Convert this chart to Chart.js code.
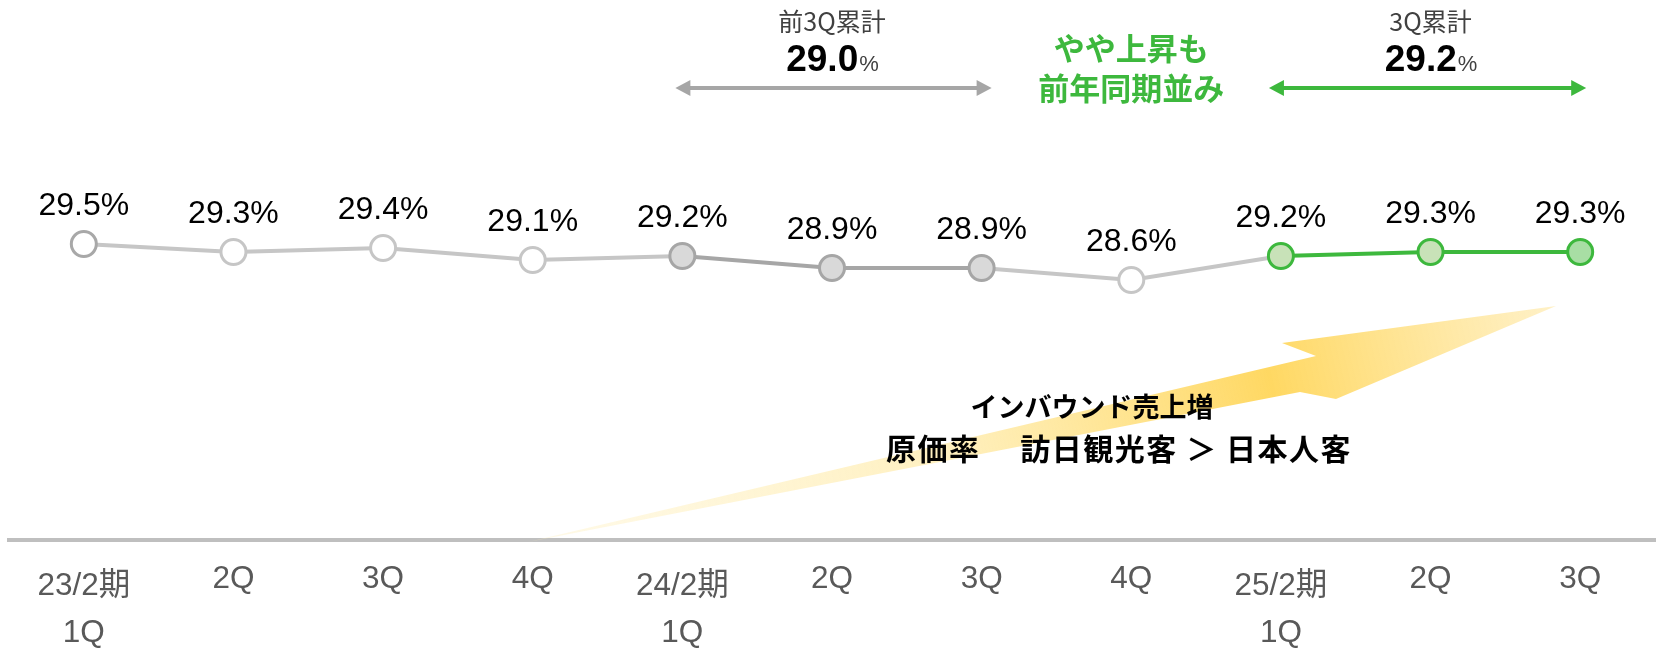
<!DOCTYPE html>
<html>
<head>
<meta charset="utf-8">
<script src="https://cdn.jsdelivr.net/npm/chart.js@4.4.1/dist/chart.umd.min.js"></script>
<style>
html, body { margin: 0; padding: 0; background: #fff; }
#wrap { width: 1658px; height: 648px; }
</style>
</head>
<body>
<div id="wrap"><canvas id="costChart" width="1658" height="648"></canvas></div>
<script>
// Quarter labels (x axis)
const quarterLabels = [['23/2期', '1Q'], '2Q', '3Q', '4Q', ['24/2期', '1Q'], '2Q', '3Q', '4Q', ['25/2期', '1Q'], '2Q', '3Q'];
// Cost ratio (%)
const costRatio = [29.5, 29.3, 29.4, 29.1, 29.2, 28.9, 28.9, 28.6, 29.2, 29.3, 29.3];
// Cumulative 3Q comparison
const prevCumTitle = '前3Q累計';
const prevCumValue = '29.0';
const prevCumRange = [4, 6];
const curCumTitle = '3Q累計';
const curCumValue = '29.2';
const curCumRange = [8, 10];
const commentLines = ['やや上昇も', '前年同期並み'];
const noteLines = ['インバウンド売上増', '原価率　 訪日観光客 ＞ 日本人客'];

const GRAY = '#c6c6c6';
const DARK_GRAY = '#a6a6a6';
const GREEN = '#3db83d';
const CJK = '"Noto Sans CJK JP", sans-serif';
const LATIN = '"Liberation Sans", Arial, sans-serif';

function segColor(i) {
    if (i >= 8) return GREEN;
    if (i === 4 || i === 5) return DARK_GRAY;
    return GRAY;
}

function drawDoubleArrow(ctx, x1, x2, y, color) {
    const head = 15, half = 8;
    ctx.save();
    ctx.strokeStyle = color;
    ctx.fillStyle = color;
    ctx.lineWidth = 4;
    ctx.beginPath();
    ctx.moveTo(x1 + head - 2, y);
    ctx.lineTo(x2 - head + 2, y);
    ctx.stroke();
    ctx.beginPath();
    ctx.moveTo(x1, y);
    ctx.lineTo(x1 + head, y - half);
    ctx.lineTo(x1 + head, y + half);
    ctx.closePath();
    ctx.fill();
    ctx.beginPath();
    ctx.moveTo(x2, y);
    ctx.lineTo(x2 - head, y - half);
    ctx.lineTo(x2 - head, y + half);
    ctx.closePath();
    ctx.fill();
    ctx.restore();
}

function drawCumulative(ctx, cx, title, value) {
    ctx.save();
    ctx.textBaseline = 'middle';
    ctx.textAlign = 'center';
    ctx.fillStyle = '#404040';
    ctx.font = '25px ' + CJK;
    ctx.fillText(title, cx, 21);
    // bold number + small percent sign
    const bigFont = 'bold 37px ' + LATIN;
    const smallFont = '22px ' + LATIN;
    ctx.font = bigFont;
    const w1 = ctx.measureText(value).width;
    ctx.font = smallFont;
    const w2 = ctx.measureText('%').width;
    const left = cx - (w1 + w2) / 2;
    ctx.textAlign = 'left';
    ctx.fillStyle = '#000';
    ctx.font = bigFont;
    ctx.fillText(value, left, 61);
    ctx.fillStyle = '#404040';
    ctx.font = smallFont;
    ctx.fillText('%', left + w1 + 1, 65);
    ctx.restore();
}

// yellow trend arrow behind the line
const trendArrow = {
    id: 'trendArrow',
    beforeDatasetsDraw(chart) {
        const ctx = chart.ctx;
        ctx.save();
        const g = ctx.createLinearGradient(528, 543, 1556, 306);
        g.addColorStop(0, 'rgba(255,238,180,0.3)');
        g.addColorStop(0.4, 'rgba(255,228,140,0.55)');
        g.addColorStop(0.72, 'rgba(255,214,90,0.95)');
        g.addColorStop(1, 'rgba(255,236,180,0.75)');
        ctx.fillStyle = g;
        ctx.beginPath();
        ctx.moveTo(528, 542);
        ctx.lineTo(1300, 392);
        ctx.lineTo(1336, 399);
        ctx.lineTo(1556, 306);
        ctx.lineTo(1282, 343);
        ctx.lineTo(1316, 356);
        ctx.closePath();
        ctx.fill();

        ctx.fillStyle = '#000';
        ctx.textAlign = 'center';
        ctx.textBaseline = 'middle';
        ctx.font = 'bold 27px ' + CJK;
        ctx.fillText(noteLines[0], 1092, 407);
        ctx.font = 'bold 30px ' + CJK;
        ctx.letterSpacing = '1.5px';
        ctx.fillText(noteLines[1], 1119, 449);
        ctx.letterSpacing = '0px';
        ctx.restore();
    }
};

// value labels and top annotations
const annotations = {
    id: 'annotations',
    afterDatasetsDraw(chart) {
        const ctx = chart.ctx;
        const meta = chart.getDatasetMeta(0);
        const x = chart.scales.x;
        ctx.save();
        ctx.fillStyle = '#000';
        ctx.textAlign = 'center';
        ctx.textBaseline = 'middle';
        ctx.font = '32px ' + LATIN;
        meta.data.forEach((pt, i) => {
            ctx.fillText(costRatio[i].toFixed(1) + '%', pt.x, pt.y - 38);
        });
        ctx.restore();

        drawDoubleArrow(ctx, x.getPixelForValue(prevCumRange[0]) - 7, x.getPixelForValue(prevCumRange[1]) + 10, 88, '#a6a6a6');
        drawDoubleArrow(ctx, x.getPixelForValue(curCumRange[0]) - 12, x.getPixelForValue(curCumRange[1]) + 6, 88, GREEN);
        drawCumulative(ctx, x.getPixelForValue(5), prevCumTitle, prevCumValue);
        drawCumulative(ctx, x.getPixelForValue(9), curCumTitle, curCumValue);

        ctx.save();
        ctx.fillStyle = GREEN;
        ctx.textAlign = 'center';
        ctx.textBaseline = 'middle';
        ctx.font = 'bold 31px ' + CJK;
        const cx = x.getPixelForValue(7);
        ctx.fillText(commentLines[0], cx, 48);
        ctx.fillText(commentLines[1], cx, 88);
        ctx.restore();
    }
};

const ctx = document.getElementById('costChart').getContext('2d');
const costChart = new Chart(ctx, {
    type: 'line',
    data: {
        labels: quarterLabels,
        datasets: [{
            label: '原価率',
            data: costRatio,
            borderWidth: 4,
            borderColor: GRAY,
            segment: {
                borderColor: c => segColor(c.p0DataIndex)
            },
            pointRadius: 12.5,
            pointHoverRadius: 12.5,
            pointBorderWidth: 3,
            pointBackgroundColor: ['#fff', '#fff', '#fff', '#fff', '#d9d9d9', '#d9d9d9', '#d9d9d9', '#fff', '#c8e2b8', '#c8e2b8', '#a8dea4'],
            pointBorderColor: ['#a8a8a8', GRAY, GRAY, GRAY, DARK_GRAY, DARK_GRAY, DARK_GRAY, GRAY, GREEN, GREEN, GREEN],
            tension: 0,
            clip: false
        }]
    },
    options: {
        responsive: false,
        animation: false,
        layout: { autoPadding: false, padding: { left: 9, right: 3, top: 0, bottom: 0 } },
        plugins: {
            legend: { display: false },
            tooltip: { enabled: false }
        },
        scales: {
            y: {
                display: false,
                min: 22.1,
                max: 35.6
            },
            x: {
                offset: true,
                grid: { display: false, drawTicks: false },
                border: { display: true, color: '#bfbfbf', width: 4 },
                ticks: {
                    color: '#595959',
                    // two-line labels sit a little lower than the single ones
                    font: c => ({
                        family: LATIN + ', "Noto Sans CJK JP"',
                        size: 31.5,
                        lineHeight: Array.isArray(quarterLabels[c.index]) ? 47 / 31.5 : 33 / 31.5
                    }),
                    padding: 23,
                    autoSkip: false,
                    maxRotation: 0,
                    minRotation: 0
                },
                afterFit: axis => { axis.height = 108; }
            }
        }
    },
    plugins: [trendArrow, annotations]
});
</script>
</body>
</html>
